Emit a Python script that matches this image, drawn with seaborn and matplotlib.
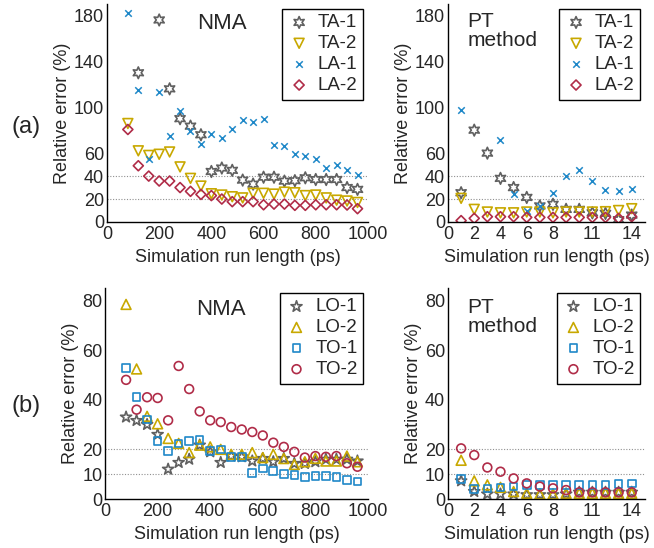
import numpy as np
import pandas as pd
import matplotlib
matplotlib.use("Agg")
import matplotlib.pyplot as plt
import seaborn as sns

# ---- data -------------------------------------------------------------
nma_x = [80, 120, 160, 200, 240, 280, 320, 360, 400, 440, 480, 520,
         560, 600, 640, 680, 720, 760, 800, 840, 880, 920, 960]
pt_x = list(range(1, 15))

nan = np.nan
# acoustic modes, NMA
ta1_nma = [nan, 130, nan, 176, 116, 90, 83.5, 76, 44, 47, 45, 36.5,
           33, 39, 39, 35.6, 36, 38.5, 37, 37, 37, 30, 28.4]
ta2_nma = [85.8, 62, 58, 59, 61, 48, 38, 31.3, 24.6, 23.5, 22, 21,
           25, 25, 24.3, 26, 25.5, 23, 23.5, 21, 19, 18.3, 17]
la1_nma = [182, 115, 55, 113, 75, 96.5, 79, 68, 76.5, 73, 80.6, 88.7,
           87, 90, 66.7, 66, 59, 57.4, 54.5, 46.7, 49.6, 45, 41]
la2_nma = [80.6, 49, 40, 35.7, 35.7, 30, 26.7, 24, 23, 20, 17.7, 17.7,
           17.7, 15, 15.6, 15.6, 14.5, 14.5, 15, 15, 15, 14.8, 11.6]
# acoustic modes, PT method
ta1_pt = [25.5, 80, 60, 38, 30, 21.4, 14, 15.4, 11, 11, 8, 7.5, 2, 6]
ta2_pt = [20.6, 11, 8.7, 8, 8, 8.7, 8.7, 8, 8.7, 8.7, 8.7, 9, 10, 11.6]
la1_pt = [97.4, nan, nan, 71, 24, 10, 14, 25.5, 40, 45, 36, 28, 27, 29]
la2_pt = [1.2, 3.2, 4.6, 4.6, 4.6, 4, 4, 4, 4, 4, 4, 4, 3.2, 4.6]

# optical modes, NMA
lo1_nma = [33, 31.6, 30, 26, 12, 14.7, 16, 21.7, 19, 14.7, 17.3, 17,
           15.3, 16.3, 15, 16.3, 14.3, 14.3, 15, 16, 16, 16, 15.3]
lo2_nma = [78.4, 52.4, 33.3, 30.3, 24.4, 22.4, 18.7, 21.7, 21, 20, 18, 18,
           18.7, 16.7, 18, 16.3, 13.9, 15, 16.4, 15.3, 15.3, 17.3, 15]
to1_nma = [52.7, 41, 32, 23.3, 19.3, 22.4, 23.3, 23.7, 19.3, 20, 17, 17,
           10.4, 12.3, 11.3, 10, 9.7, 8.8, 9.3, 9.3, 8.8, 7.6, 7]
to2_nma = [48, 36, 41, 40.7, 31.7, 53.6, 44.3, 35.3, 31.7, 31, 29, 28,
           27, 25.6, 22.7, 21, 19, 16.7, 17.3, 17, 17.3, 14.4, 13]
# optical modes, PT method
lo1_pt = [7.3, 3, 2, 2, 2, 1.7, 1.7, 1.7, 2, 2.7, 2.7, 2.7, 2.7, 2.7]
lo2_pt = [15.6, 7.3, 5.7, 4.7, 3, 2.3, 2, 2, 2.3, 2.3, 2.3, 2.3, 2.3, 2.3]
to1_pt = [8, 4, 4.3, 4.7, 5, 5.7, 5.7, 5.7, 5.7, 5.7, 5.7, 5.7, 6, 6.3]
to2_pt = [20.4, 17.7, 12.7, 11, 8.3, 6.3, 5, 4.3, 3.6, 2.7, 2.7, 2.7, 2.7, 2.7]

acoustic_names = ["TA-1", "TA-2", "LA-1", "LA-2"]
optical_names = ["LO-1", "LO-2", "TO-1", "TO-2"]

a_ticks = [0, 20, 40, 60, 100, 140, 180]
b_ticks = [0, 10, 20, 40, 60, 80]
nma_xticks = [0, 200, 400, 600, 800, 1000]
pt_xticks = [0, 2, 4, 6, 8, 11, 14]

# ---- styling ------------------------------------------------------------
sns.set_style("white")
plt.rcParams["font.family"] = ["Liberation Sans", "DejaVu Sans"]

grey, gold, blue, red = "#606060", "#c8a800", "#1f88c8", "#b02c48"
acoustic_style = {
    "TA-1": dict(marker=(6, 1, 0), color=grey, s=70),
    "TA-2": dict(marker="v", color=gold, s=50),
    "LA-1": dict(marker="x", color=blue, s=22),
    "LA-2": dict(marker="D", color=red, s=26),
}
optical_style = {
    "LO-1": dict(marker="*", color=grey, s=70),
    "LO-2": dict(marker="^", color=gold, s=50),
    "TO-1": dict(marker="s", color=blue, s=30),
    "TO-2": dict(marker="o", color=red, s=40),
}


def draw(ax, x, series, names, styles, xlim, xticks, ylim, yticks, grid_at,
         title, title_pos, title_ha):
    for name, vals in zip(names, series):
        st = styles[name]
        df = pd.DataFrame({"x": x, "y": vals}).dropna()
        before = len(ax.collections)
        if st["marker"] == "x":
            sns.scatterplot(data=df, x="x", y="y", ax=ax, marker="x",
                            color=st["color"], s=st["s"], linewidth=1.1,
                            label=name)
        else:
            sns.scatterplot(data=df, x="x", y="y", ax=ax, marker=st["marker"],
                            facecolor="none", edgecolor=st["color"],
                            s=st["s"], linewidth=1.2, label=name)
            for coll in ax.collections[before:]:
                coll.set_facecolor("none")
                coll.set_edgecolor(st["color"])
    for g in grid_at:
        ax.axhline(g, color="#909090", lw=0.8, ls=(0, (1, 1.5)), zorder=0)
    ax.set_xlim(*xlim)
    ax.set_ylim(*ylim)
    ax.set_xticks(xticks)
    ax.set_yticks(yticks)
    ax.set_xticklabels([str(t) for t in xticks])
    ax.set_yticklabels([str(t) for t in yticks])
    ax.set_xlabel("Simulation run length (ps)", fontsize=13, labelpad=4)
    ax.set_ylabel("Relative error (%)", fontsize=13, labelpad=2)
    ax.tick_params(direction="in", length=3, width=0.8, labelsize=13,
                   color="#333333")
    ax.tick_params(axis="x", pad=3)
    ax.tick_params(axis="y", pad=2)
    for side in ["top", "right"]:
        ax.spines[side].set_visible(False)
    for side in ["left", "bottom"]:
        ax.spines[side].set_color("black")
        ax.spines[side].set_linewidth(1.0)
    leg = ax.legend(loc="upper right", fontsize=13.5, frameon=True,
                    fancybox=False, edgecolor="black", framealpha=1,
                    borderaxespad=0.25, handletextpad=0.4, labelspacing=0.2,
                    handlelength=1.2, borderpad=0.3)
    leg.get_frame().set_linewidth(1.0)
    ax.text(title_pos[0], title_pos[1], title, transform=ax.transAxes,
            fontsize=16 if title == "NMA" else 15, ha=title_ha, va="top",
            linespacing=1.05)


fig = plt.figure(figsize=(6.54, 5.48), dpi=100)
ax_a1 = fig.add_axes([0.1636, 0.5949, 0.399, 0.398])
ax_a2 = fig.add_axes([0.685, 0.5949, 0.301, 0.398])
ax_b1 = fig.add_axes([0.1606, 0.0894, 0.402, 0.385])
ax_b2 = fig.add_axes([0.685, 0.0894, 0.301, 0.385])

draw(ax_a1, nma_x, [ta1_nma, ta2_nma, la1_nma, la2_nma], acoustic_names,
     acoustic_style, (0, 1000), nma_xticks, (0, 190), a_ticks, [20, 40],
     "NMA", (0.44, 0.96), "center")
draw(ax_a2, pt_x, [ta1_pt, ta2_pt, la1_pt, la2_pt], acoustic_names,
     acoustic_style, (0, 15), pt_xticks, (0, 190), a_ticks, [20, 40],
     "PT\nmethod", (0.1, 0.965), "left")
draw(ax_b1, nma_x, [lo1_nma, lo2_nma, to1_nma, to2_nma], optical_names,
     optical_style, (0, 1000), nma_xticks, (0, 85), b_ticks, [10, 20],
     "NMA", (0.44, 0.95), "center")
draw(ax_b2, pt_x, [lo1_pt, lo2_pt, to1_pt, to2_pt], optical_names,
     optical_style, (0, 15), pt_xticks, (0, 85), b_ticks, [10, 20],
     "PT\nmethod", (0.1, 0.955), "left")

fig.text(26 / 654, 1 - 127 / 548, "(a)", fontsize=17, ha="center", va="center")
fig.text(26 / 654, 1 - 406 / 548, "(b)", fontsize=17, ha="center", va="center")

fig.savefig("out.png", dpi=100)
